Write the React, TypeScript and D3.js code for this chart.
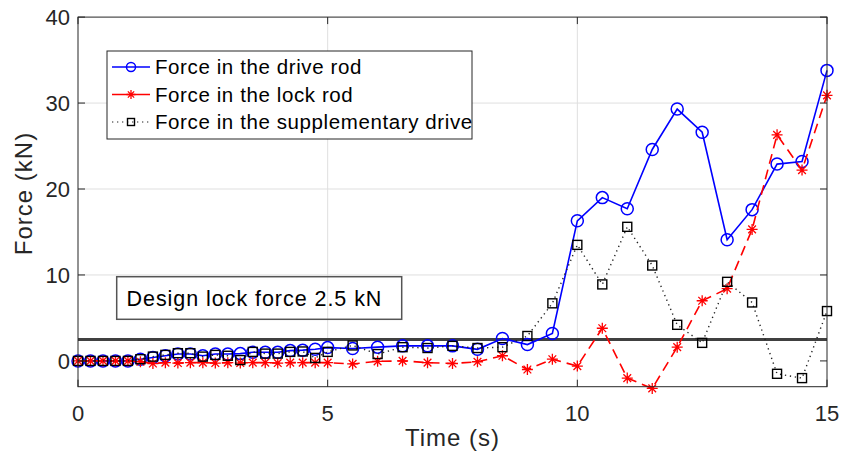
import React, { useEffect, useRef } from "react";
import * as d3 from "d3";

// time stamps (s)
const times = [
  0, 0.25, 0.5, 0.75, 1, 1.25, 1.5, 1.75, 2, 2.25, 2.5, 2.75, 3, 3.25, 3.5, 3.75, 4, 4.25, 4.5, 4.75, 5,
  5.5, 6, 6.5, 7, 7.5, 8, 8.5, 9, 9.5, 10, 10.5, 11, 11.5, 12, 12.5, 13, 13.5, 14, 14.5, 15,
];

// force in the drive rod (kN)
const driveRod = [
  0, 0, 0, 0, 0, 0.2, 0.4, 0.6, 0.8, 0.8, 0.6, 0.8, 0.8, 0.85, 1.0, 1.0, 1.0, 1.2, 1.25, 1.35, 1.55,
  1.45, 1.6, 1.75, 1.75, 1.75, 1.35, 2.6, 1.9, 3.2, 16.3, 19.0, 17.7, 24.6, 29.3, 26.6, 14.1, 17.6, 22.9, 23.2, 33.8,
];

// force in the lock rod (kN)
const lockRod = [
  0, 0, 0, 0, 0, -0.1, -0.3, -0.2, -0.25, -0.2, -0.2, -0.25, -0.2, -0.25, -0.2, -0.2, -0.25, -0.2, -0.2, -0.2, -0.2,
  -0.35, -0.05, 0.0, -0.2, -0.3, -0.1, 0.6, -1.0, 0.2, -0.6, 3.8, -2.0, -3.2, 1.6, 7.0, 8.4, 15.3, 26.3, 22.2, 30.9,
];

// force in the supplementary drive (kN)
const supplementary = [
  0, 0, 0, 0, 0, 0.2, 0.5, 0.7, 0.9, 0.9, 0.5, 0.7, 0.6, 0.1, 1.05, 0.85, 0.85, 1.05, 1.1, 0.35, 1.05,
  1.8, 0.8, 1.6, 1.5, 1.75, 1.5, 1.6, 2.9, 6.7, 13.5, 8.9, 15.6, 11.1, 4.2, 2.1, 9.2, 6.8, -1.5, -2.0, 5.8,
];

const xTicks = [0, 5, 10, 15];
const yTicks = [0, 10, 20, 30, 40];
const legendLabels = [
  "Force in the drive rod",
  "Force in the lock rod",
  "Force in the supplementary drive",
];
const designForce = 2.5;
const designLabel = "Design lock force 2.5 kN";

const App = () => {
  const svgRef = useRef(null);

  useEffect(() => {
    const width = 842,
      height = 453;
    const left = 78,
      right = 827,
      top = 17.1,
      bottom = 386.7;
    const font = "'Liberation Sans', Arial, sans-serif";
    const textColor = "#262626";

    const svg = d3.select(svgRef.current).attr("width", width).attr("height", height).html("");
    svg.append("rect").attr("width", width).attr("height", height).attr("fill", "#fff");

    const x = d3.scaleLinear().domain([0, 15]).range([left, right]);
    const y = d3.scaleLinear().domain([-3, 40]).range([bottom, top]);

    // grid
    const grid = svg.append("g").attr("stroke", "#dfdfdf").attr("stroke-width", 1);
    xTicks.slice(1, -1).forEach((t) => {
      grid.append("line").attr("x1", x(t)).attr("x2", x(t)).attr("y1", top).attr("y2", bottom);
    });
    yTicks.slice(1, -1).forEach((t) => {
      grid.append("line").attr("x1", left).attr("x2", right).attr("y1", y(t)).attr("y2", y(t));
    });

    // design force line
    svg
      .append("line")
      .attr("x1", left)
      .attr("x2", right)
      .attr("y1", y(designForce))
      .attr("y2", y(designForce))
      .attr("stroke", "#404040")
      .attr("stroke-width", 3);

    const series = [
      { values: driveRod, color: "#0000ff", dash: null, marker: "circle" },
      { values: lockRod, color: "#ff0000", dash: "10,6", marker: "star" },
      { values: supplementary, color: "#222", dash: "1.3,3.7", marker: "square" },
    ];

    const drawMarker = (g, kind, cx, cy, color, small) => {
      if (kind === "circle") {
        g.append("circle")
          .attr("cx", cx)
          .attr("cy", cy)
          .attr("r", small ? 4.5 : 6)
          .attr("fill", "none")
          .attr("stroke", color)
          .attr("stroke-width", 1.5);
      } else if (kind === "star") {
        const s = small ? 4.5 : 5.5,
          d = s * 0.7;
        g.append("path")
          .attr(
            "d",
            `M${cx - s},${cy}L${cx + s},${cy}M${cx},${cy - s}L${cx},${cy + s}` +
              `M${cx - d},${cy - d}L${cx + d},${cy + d}M${cx - d},${cy + d}L${cx + d},${cy - d}`
          )
          .attr("stroke", color)
          .attr("stroke-width", 1.3);
      } else {
        const s = small ? 3.5 : 4.5;
        g.append("rect")
          .attr("x", cx - s)
          .attr("y", cy - s)
          .attr("width", 2 * s)
          .attr("height", 2 * s)
          .attr("fill", "none")
          .attr("stroke", "#000")
          .attr("stroke-width", 1.4);
      }
    };

    series.forEach((s) => {
      const pts = times.map((t, i) => [t, s.values[i]]);
      const line = d3
        .line()
        .x((d) => x(d[0]))
        .y((d) => y(d[1]));
      const g = svg.append("g");
      g.append("path")
        .attr("d", line(pts))
        .attr("fill", "none")
        .attr("stroke", s.color)
        .attr("stroke-width", s.marker === "square" ? 1.4 : 1.6)
        .attr("stroke-dasharray", s.dash);
      pts.forEach((p) => drawMarker(g, s.marker, x(p[0]), y(p[1]), s.color, false));
    });

    // axes box + inward ticks
    const ax = svg.append("g").attr("stroke", textColor).attr("stroke-width", 1);
    ax.append("rect")
      .attr("x", left)
      .attr("y", top)
      .attr("width", right - left)
      .attr("height", bottom - top)
      .attr("fill", "none");
    const tl = 7;
    xTicks.forEach((t) => {
      ax.append("line").attr("x1", x(t)).attr("x2", x(t)).attr("y1", bottom).attr("y2", bottom - tl);
      ax.append("line").attr("x1", x(t)).attr("x2", x(t)).attr("y1", top).attr("y2", top + tl);
    });
    yTicks.forEach((t) => {
      ax.append("line").attr("x1", left).attr("x2", left + tl).attr("y1", y(t)).attr("y2", y(t));
      ax.append("line").attr("x1", right).attr("x2", right - tl).attr("y1", y(t)).attr("y2", y(t));
    });

    // tick labels
    svg
      .append("g")
      .selectAll("text")
      .data(xTicks)
      .enter()
      .append("text")
      .attr("x", (d) => x(d))
      .attr("y", 421)
      .attr("text-anchor", "middle")
      .style("font-family", font)
      .style("font-size", "22px")
      .style("fill", textColor)
      .text((d) => d);
    svg
      .append("g")
      .selectAll("text")
      .data(yTicks)
      .enter()
      .append("text")
      .attr("x", 70)
      .attr("y", (d) => y(d) + 7.8)
      .attr("text-anchor", "end")
      .style("font-family", font)
      .style("font-size", "22px")
      .style("fill", textColor)
      .text((d) => d);

    // axis labels
    svg
      .append("text")
      .attr("x", (left + right) / 2)
      .attr("y", 446)
      .attr("text-anchor", "middle")
      .style("font-family", font)
      .style("font-size", "24px")
      .style("letter-spacing", "1px")
      .style("fill", textColor)
      .text("Time (s)");
    svg
      .append("text")
      .attr("transform", "translate(32,193.5) rotate(-90)")
      .attr("text-anchor", "middle")
      .style("font-family", font)
      .style("font-size", "24px")
      .style("letter-spacing", "1px")
      .style("fill", textColor)
      .text("Force (kN)");

    // design force annotation
    svg
      .append("rect")
      .attr("x", 116.7)
      .attr("y", 276.7)
      .attr("width", 285)
      .attr("height", 42.6)
      .attr("fill", "none")
      .attr("stroke", "#555")
      .attr("stroke-width", 1.5);
    svg
      .append("text")
      .attr("x", 126.5)
      .attr("y", 305.5)
      .style("font-family", font)
      .style("font-size", "21.5px")
      .style("letter-spacing", "0.95px")
      .style("fill", "#000")
      .text(designLabel);

    // legend
    const lg = svg.append("g");
    lg.append("rect")
      .attr("x", 107)
      .attr("y", 51)
      .attr("width", 365)
      .attr("height", 88)
      .attr("fill", "#fff")
      .attr("stroke", textColor)
      .attr("stroke-width", 1);
    series.forEach((s, i) => {
      const ly = 67 + i * 27.5;
      lg.append("line")
        .attr("x1", 112)
        .attr("x2", 150)
        .attr("y1", ly)
        .attr("y2", ly)
        .attr("stroke", s.color)
        .attr("stroke-width", s.marker === "square" ? 1.2 : 1.5)
        .attr("stroke-dasharray", s.marker === "square" ? "1.3,3.7" : null);
      drawMarker(lg, s.marker, 131, ly, s.color, true);
      lg.append("text")
        .attr("x", 155)
        .attr("y", ly + 7.3)
        .style("font-family", font)
        .style("font-size", "20.5px")
        .style("letter-spacing", "0.6px")
        .style("fill", "#000")
        .text(legendLabels[i]);
    });
  }, []);

  return <svg ref={svgRef} style={{ position: "absolute", left: 0, top: 0 }}></svg>;
};

export default App;
